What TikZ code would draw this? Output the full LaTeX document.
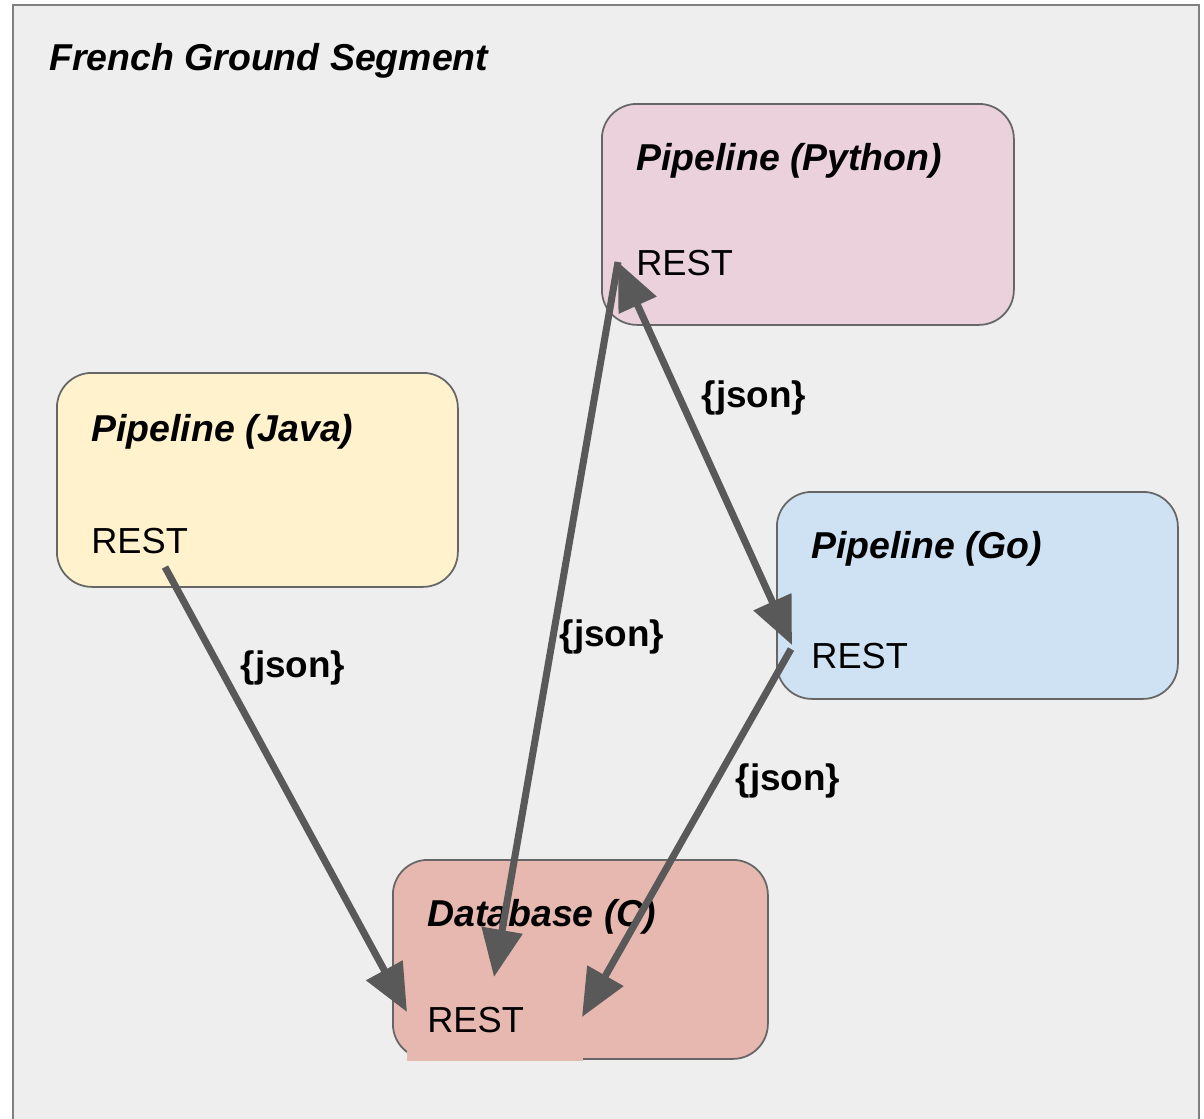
\documentclass[tikz,border=0pt]{standalone}
\usepackage{fontspec}
\setmainfont{Liberation Sans}
\usepackage{xcolor}
\usetikzlibrary{arrows.meta}

\definecolor{framefill}{HTML}{EEEEEE}
\definecolor{frameline}{HTML}{808080}
\definecolor{boxline}{HTML}{666666}
\definecolor{linkgray}{HTML}{595959}
\definecolor{pyfill}{HTML}{EAD1DC}
\definecolor{javafill}{HTML}{FFF2CC}
\definecolor{gofill}{HTML}{CFE2F3}
\definecolor{dbfill}{HTML}{E6B8AF}

\tikzset{
  box/.style={draw=boxline, line width=1pt, rounded corners=0.7cm, anchor=north west, inner sep=0pt},
  boxtitle/.style={anchor=west, inner sep=0pt, font=\fontsize{21.3}{25}\selectfont\bfseries\itshape},
  resttext/.style={anchor=west, inner sep=0pt, font=\fontsize{20.6}{24}\selectfont},
  restpatch/.style={fill=dbfill, text width=2.72cm, inner xsep=0.4cm, minimum height=1.62cm, xshift=-0.4cm},
  jsontext/.style={inner sep=0pt, font=\fontsize{21}{25}\selectfont\bfseries},
  link/.style={draw=linkgray, line width=4pt},
  tip/.style={-{Triangle[length=0.95cm,width=0.8cm]}}
}

\begin{document}
\begin{tikzpicture}
    \useasboundingbox (0,0) rectangle (24.08,-22.36);
    \draw[frameline, fill=framefill, line width=1pt] (0.26,-0.10) rectangle (23.98,-23);
    \node[boxtitle] (segment) at (0.98,-1.22) {French Ground Segment};

    \foreach \name/\col/\corner/\w/\h/\ty/\ry/\extra/\label in {
        python/pyfill/{12.02,-2.06}/8.24/4.42/-1.16/-3.20//{Pipeline (Python)},
        java/javafill/{1.12,-7.44}/8.02/4.28/-1.20/-3.38//{Pipeline (Java)},
        go/gofill/{15.52,-9.82}/8.02/4.14/-1.16/-3.30//{Pipeline (Go)},
        db/dbfill/{7.84,-17.18}/7.50/3.98/-1.16/-3.22/restpatch/{Database (C)}
    }{
        \node[box, fill=\col, minimum width=\w cm, minimum height=\h cm] (\name) at (\corner) {};
        \node[boxtitle] (\name title) at ([shift={(0.70,\ty)}]\name.north west) {\label};
        \node[resttext, \extra] (\name rest) at ([shift={(0.70,\ry)}]\name.north west) {REST};
    }

    \coordinate (javaOut) at (3.30,-11.34);
    \coordinate (dbInA) at (8.14,-20.24);
    \coordinate (pyEnd) at (12.36,-5.24);
    \coordinate (dbInB) at (9.88,-19.54);
    \coordinate (goEnd) at (15.84,-12.90);
    \coordinate (goOut) at (15.82,-12.98);
    \coordinate (dbInC) at (11.64,-20.34);

    \draw[link, tip] (javaOut) -- (dbInA);
    \draw[link, tip] (pyEnd) -- (dbInB);
    \draw[link, {Triangle[length=0.95cm,width=0.8cm]}-{Triangle[length=0.95cm,width=0.8cm]}] (pyEnd) -- (goEnd);
    \draw[link, tip] (goOut) -- (dbInC);

    \node[jsontext] (jsonJava) at (5.86,-13.36) {\{json\}};
    \node[jsontext] (jsonPython) at (12.24,-12.74) {\{json\}};
    \node[jsontext] (jsonGo) at (15.08,-7.96) {\{json\}};
    \node[jsontext] (jsonDb) at (15.76,-15.62) {\{json\}};
\end{tikzpicture}
\end{document}
